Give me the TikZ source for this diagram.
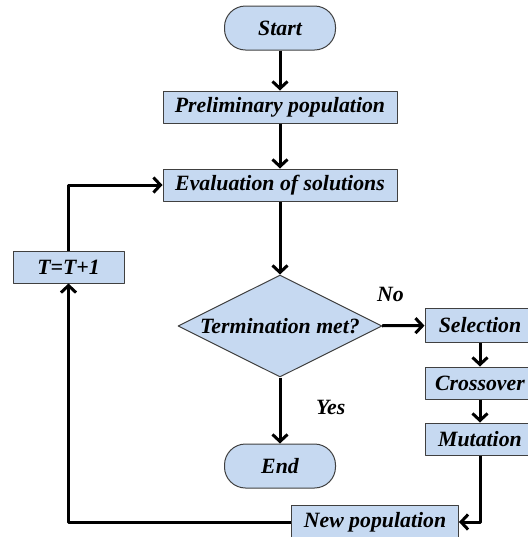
\documentclass[tikz,border=0pt]{standalone}
\usepackage{fontspec}
\setmainfont{Liberation Serif}
\usetikzlibrary{shapes.geometric,arrows.meta}
\definecolor{boxfill}{RGB}{198,217,241}
\definecolor{boxline}{RGB}{64,64,64}
\begin{document}
\begin{tikzpicture}[x=0.5pt,y=-0.5pt,line join=round,
		>={Straight Barb[length=3.5pt,width=7.5pt]},
		every node/.style={font=\fontsize{10.9}{13}\selectfont\bfseries\itshape},
		box/.style={draw=boxline,fill=boxfill,line width=0.5pt,inner sep=0pt,minimum height=16pt},
		term/.style={box,rounded corners=10.5pt,minimum width=55.5pt,minimum height=22pt},
		decision/.style={box,diamond,aspect=2,minimum width=102pt,minimum height=51pt},
		flow/.style={->,line width=1.5pt}]
	\useasboundingbox (0,0) rectangle (527,537);
	% main column
	\node[term] (start) at (280,28) {Start};
	\node[box,minimum width=117pt] (prelim) at (280,107) {Preliminary population};
	\node[box,minimum width=117pt] (eval) at (280,185) {Evaluation of solutions};
	\node[decision] (check) at (280,326) {Termination met?};
	\node[term] (stop) at (280,466) {End};
	% operators
	\node[box,minimum width=55pt,minimum height=17pt] (sel) at (480,325.5) {Selection};
	\node[box,minimum width=55pt] (cross) at (480,383) {Crossover};
	\node[box,minimum width=55pt] (mut) at (480,439) {Mutation};
	\node[box,minimum width=83.5pt,minimum height=17pt] (newpop) at (375,522) {New population};
	\node[box,minimum width=55.5pt] (incr) at (68.5,267) {T=T+1};
	% connectors
	\draw[flow] (start) -- (prelim);
	\draw[flow] (prelim) -- (eval);
	\draw[flow] (eval) -- (check);
	\draw[flow] (check) -- (stop) node[pos=0.45,right=14pt] {Yes};
	\draw[flow] (check) -- (sel) node[pos=0.2,above=8pt] {No};
	\draw[flow] (sel) -- (cross);
	\draw[flow] (cross) -- (mut);
	\draw[flow] (mut.south) |- (newpop.east);
	\draw[flow] (newpop.west) -| (incr.south);
	\draw[flow] (incr.north) |- (eval.west);
\end{tikzpicture}
\end{document}
